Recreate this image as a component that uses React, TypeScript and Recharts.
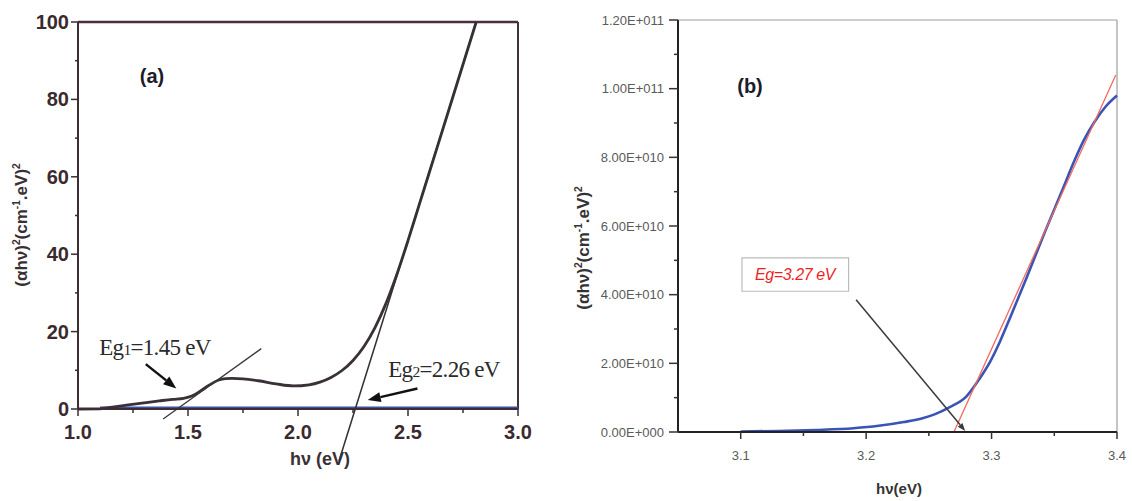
import { LineChart, Line, XAxis, YAxis, ReferenceLine, ReferenceArea } from "recharts";

// (a) Tauc plot, low energy range
const aEnergy = [1.0, 1.1, 1.13, 1.22, 1.3, 1.37, 1.43, 1.48, 1.52, 1.56, 1.6, 1.64, 1.67, 1.7, 1.75, 1.82, 1.9, 1.98, 2.05, 2.1, 2.15, 2.2, 2.25, 2.3, 2.35, 2.4, 2.45, 2.5, 2.55, 2.6, 2.7, 2.81];
const aAbs = [0, 0.05, 0.3, 1.0, 1.6, 2.1, 2.5, 2.75, 3.4, 4.8, 6.3, 7.5, 7.85, 7.9, 7.8, 7.3, 6.5, 5.95, 6.25, 6.95, 8.15, 9.95, 12.55, 16.15, 21.05, 27.3, 34.9, 43.5, 52.6, 61.7, 79.9, 100];
const aBaseEnergy = [1.1, 3.0];
const aBaseAbs = [0.3, 0.3];

const aTicksX = [1.0, 1.25, 1.5, 1.75, 2.0, 2.25, 2.5, 2.75, 3.0];
const aLabelsX = ["1.0", "", "1.5", "", "2.0", "", "2.5", "", "3.0"];
const aTicksY = [0, 10, 20, 30, 40, 50, 60, 70, 80, 90, 100];
const aLabelsY = ["0", "", "20", "", "40", "", "60", "", "80", "", "100"];

// linear fits and the arrows pointing at their intercepts
const eg1 = 1.45;
const eg2 = 2.26;
const fitA1Energy = [1.387, 1.833];
const fitA1Abs = [-2.56, 15.6];
const fitA2Energy = [2.186, 2.81];
const fitA2Abs = [-13.5, 100];
const arrowA1Energy = [1.308, 1.447];
const arrowA1Abs = [11.6, 5.3];
const arrowA2Energy = [2.543, 2.317];
const arrowA2Abs = [5.3, 2.3];

// (b) Tauc plot near the main absorption edge
const bEnergy = [3.1, 3.13, 3.16, 3.19, 3.21, 3.23, 3.245, 3.255, 3.267, 3.28, 3.29, 3.299, 3.307, 3.315, 3.328, 3.342, 3.357, 3.366, 3.374, 3.382, 3.391, 3.4];
const bAbs = [0.15e9, 0.3e9, 0.6e9, 1.1e9, 1.8e9, 2.9e9, 4.0e9, 5.2e9, 7.3e9, 10.4e9, 15.3e9, 20.6e9, 26.6e9, 33.5e9, 45.0e9, 57.8e9, 71.0e9, 79.0e9, 85.3e9, 90.3e9, 94.8e9, 98.0e9];

const bTicksX = [3.1, 3.15, 3.2, 3.25, 3.3, 3.35, 3.4];
const bLabelsX = ["3.1", "", "3.2", "", "3.3", "", "3.4"];
const bTicksY = [0, 1e10, 2e10, 3e10, 4e10, 5e10, 6e10, 7e10, 8e10, 9e10, 1e11, 1.1e11, 1.2e11];
const bLabelsY = ["0.00E+000", "", "2.00E+010", "", "4.00E+010", "", "6.00E+010", "", "8.00E+010", "", "1.00E+011", "", "1.20E+011"];

const egB = 3.27;
const fitBEnergy = [egB, 3.399];
const fitBAbs = [0, 1.04e11];
const arrowBEnergy = [3.192, 3.279];
const arrowBAbs = [3.85e10, 0.3e9];
const boxBEnergy = [3.101, 3.186];
const boxBAbs = [4.1e10, 5.07e10];

const zip = (xs: number[], ys: number[]) => xs.map((e, i) => ({ e, v: ys[i] }));
const seg = (xs: number[], ys: number[]) => [{ x: xs[0], y: ys[0] }, { x: xs[1], y: ys[1] }];

const SANS = '"Liberation Sans", Arial, sans-serif';
const SERIF = '"Liberation Serif", "Times New Roman", serif';

interface TickStyle {
  side: "left" | "bottom";
  ticks: number[];
  labels: string[];
  major: number;
  minor: number;
  gap: number;
  color: string;
  font: string;
  size: number;
  weight: string;
  tickColor: string;
}

function makeTick(s: TickStyle) {
  return (p: any) => {
    const { x, y, payload } = p;
    const i = s.ticks.indexOf(payload.value);
    const label = i >= 0 ? s.labels[i] : "";
    const len = label ? s.major : s.minor;
    if (s.side === "left") {
      return (
        <g>
          <line x1={x} y1={y} x2={x - len} y2={y} stroke={s.tickColor} strokeWidth={1.5} />
          {label && (
            <text x={x - len - s.gap} y={y} textAnchor="end" dominantBaseline="central"
              fill={s.color} fontFamily={s.font} fontSize={s.size} fontWeight={s.weight}>
              {label}
            </text>
          )}
        </g>
      );
    }
    return (
      <g>
        <line x1={x} y1={y} x2={x} y2={y + len} stroke={s.tickColor} strokeWidth={1.5} />
        {label && (
          <text x={x} y={y + s.gap} textAnchor="middle" dominantBaseline="central"
            fill={s.color} fontFamily={s.font} fontSize={s.size} fontWeight={s.weight}>
            {label}
          </text>
        )}
      </g>
    );
  };
}

function arrowShape(headLen: number, headW: number) {
  return (p: any) => {
    const { x1, y1, x2, y2, stroke, strokeWidth } = p;
    const dx = x2 - x1;
    const dy = y2 - y1;
    const d = Math.hypot(dx, dy) || 1;
    const ux = dx / d;
    const uy = dy / d;
    const bx = x2 - ux * headLen;
    const by = y2 - uy * headLen;
    const px = (-uy * headW) / 2;
    const py = (ux * headW) / 2;
    return (
      <g>
        <line x1={x1} y1={y1} x2={bx} y2={by} stroke={stroke} strokeWidth={strokeWidth} />
        <polygon points={`${x2},${y2} ${bx + px},${by + py} ${bx - px},${by - py}`} fill={stroke} />
      </g>
    );
  };
}

const sup = (t: string) => (
  <span style={{ fontSize: "0.6em", position: "relative", top: "-0.65em" }}>{t}</span>
);

const AXIS_A = "#3b2d33";

function PanelA() {
  return (
    <LineChart width={560} height={501} margin={{ top: 22, right: 42, left: 0, bottom: 0 }}>
      <XAxis
        dataKey="e"
        type="number"
        domain={[1, 3]}
        ticks={aTicksX}
        interval={0}
        height={92}
        tickSize={0}
        tickMargin={0}
        tickLine={false}
        axisLine={{ stroke: AXIS_A, strokeWidth: 2 }}
        tick={makeTick({
          side: "bottom", ticks: aTicksX, labels: aLabelsX, major: 7, minor: 4, gap: 23,
          color: "#3a2a2e", font: SANS, size: 20, weight: "bold", tickColor: AXIS_A,
        })}
      />
      <YAxis
        dataKey="v"
        type="number"
        domain={[0, 100]}
        ticks={aTicksY}
        interval={0}
        width={78}
        tickSize={0}
        tickMargin={0}
        tickLine={false}
        axisLine={{ stroke: AXIS_A, strokeWidth: 2 }}
        tick={makeTick({
          side: "left", ticks: aTicksY, labels: aLabelsY, major: 7, minor: 3, gap: 2,
          color: "#3a2a2e", font: SANS, size: 20, weight: "bold", tickColor: AXIS_A,
        })}
      />
      <ReferenceLine y={100} stroke="#4a2f3d" strokeWidth={2.5} />
      <ReferenceLine x={3} stroke="#3d3438" strokeWidth={2} />
      <Line data={zip(aBaseEnergy, aBaseAbs)} dataKey="v" stroke="#3f50a3" strokeWidth={2.5}
        dot={false} isAnimationActive={false} />
      <Line data={zip(aEnergy, aAbs)} dataKey="v" type="monotone" stroke="#3a3038" strokeWidth={2.8}
        dot={false} isAnimationActive={false} />
      <ReferenceLine segment={seg(fitA1Energy, fitA1Abs)} ifOverflow="visible" stroke="#3a3a3a" strokeWidth={1.3} />
      <ReferenceLine segment={seg(fitA2Energy, fitA2Abs)} ifOverflow="visible" stroke="#333" strokeWidth={1.5} />
      <ReferenceLine segment={seg(arrowA1Energy, arrowA1Abs)} ifOverflow="visible" stroke="#111" strokeWidth={2.5}
        shape={arrowShape(13, 10)} />
      <ReferenceLine segment={seg(arrowA2Energy, arrowA2Abs)} ifOverflow="visible" stroke="#111" strokeWidth={2.5}
        shape={arrowShape(13, 10)} />
    </LineChart>
  );
}

function PanelB() {
  return (
    <LineChart width={562} height={501} margin={{ top: 20, right: 15, left: 0, bottom: 0 }}>
      <XAxis
        dataKey="e"
        type="number"
        domain={[3.05, 3.4]}
        ticks={bTicksX}
        interval={0}
        height={69}
        tickSize={0}
        tickMargin={0}
        tickLine={false}
        axisLine={{ stroke: "#222", strokeWidth: 2 }}
        tick={makeTick({
          side: "bottom", ticks: bTicksX, labels: bLabelsX, major: 7, minor: 4, gap: 23,
          color: "#5a5a5a", font: SANS, size: 13, weight: "normal", tickColor: "#333",
        })}
      />
      <YAxis
        dataKey="v"
        type="number"
        domain={[0, 1.2e11]}
        ticks={bTicksY}
        interval={0}
        width={108}
        tickSize={0}
        tickMargin={0}
        tickLine={false}
        axisLine={{ stroke: "#222", strokeWidth: 2 }}
        tick={makeTick({
          side: "left", ticks: bTicksY, labels: bLabelsY, major: 9, minor: 4, gap: 5,
          color: "#5a5a5a", font: SANS, size: 13, weight: "normal", tickColor: "#333",
        })}
      />
      <ReferenceLine y={1.2e11} stroke="#bdbdbd" strokeWidth={1.5} />
      <ReferenceLine x={3.4} stroke="#b0b0b0" strokeWidth={1.5} />
      <ReferenceArea x1={boxBEnergy[0]} x2={boxBEnergy[1]} y1={boxBAbs[0]} y2={boxBAbs[1]}
        fill="#fff" fillOpacity={1} stroke="#bbb" strokeWidth={1.2} />
      <Line data={zip(bEnergy, bAbs)} dataKey="v" type="monotone" stroke="#3a54b6" strokeWidth={2.6}
        dot={false} isAnimationActive={false} />
      <ReferenceLine segment={seg(fitBEnergy, fitBAbs)} ifOverflow="visible" stroke="#f26a5e" strokeWidth={1.3} />
      <ReferenceLine segment={seg(arrowBEnergy, arrowBAbs)} ifOverflow="visible" stroke="#3a3a3a" strokeWidth={1.5}
        shape={arrowShape(8, 6)} />
    </LineChart>
  );
}

const abs = (left: number, top: number, extra: React.CSSProperties = {}): React.CSSProperties => ({
  position: "absolute",
  left,
  top,
  transform: "translate(-50%, -50%)",
  whiteSpace: "nowrap",
  lineHeight: 1,
  ...extra,
});

export default function App() {
  return (
    <div style={{ position: "absolute", left: 0, top: 0, width: 1132, height: 501, background: "#fff", overflow: "hidden" }}>
      <div style={{ position: "absolute", left: 0, top: 0 }}>
        <PanelA />
      </div>
      <div style={{ position: "absolute", left: 570, top: 0 }}>
        <PanelB />
      </div>

      {/* panel (a) texts */}
      <div style={abs(152, 76, { font: `bold 20px ${SANS}`, color: "#1c1c2a" })}>(a)</div>
      <div style={abs(22, 225, { font: `bold 17px ${SANS}`, color: "#3a3034", transform: "translate(-50%, -50%) rotate(-90deg)" })}>
        (αhν){sup("2")}(cm{sup("-1")}.eV){sup("2")}
      </div>
      <div style={abs(320, 459, { font: `bold 18px ${SANS}`, color: "#3a3034" })}>hν (eV)</div>
      <div style={abs(155, 348, { font: `23px ${SERIF}`, color: "#2a2a2a", letterSpacing: -0.7 })}>
        Eg<span style={{ fontSize: "0.68em" }}>1</span>={eg1.toFixed(2)} eV
      </div>
      <div style={abs(444, 370, { font: `23px ${SERIF}`, color: "#2a2a2a", letterSpacing: -0.7 })}>
        Eg<span style={{ fontSize: "0.68em" }}>2</span>={eg2.toFixed(2)} eV
      </div>

      {/* panel (b) texts */}
      <div style={abs(750, 86, { font: `bold 20px ${SANS}`, color: "#1c1c2a" })}>(b)</div>
      <div style={abs(584, 248, { font: `bold 17px ${SANS}`, color: "#333", transform: "translate(-50%, -50%) rotate(-90deg)" })}>
        (αhν){sup("2")}(cm{sup("-1")}.eV){sup("2")}
      </div>
      <div style={abs(899, 488, { font: `bold 15px ${SANS}`, color: "#333" })}>hν(eV)</div>
      <div style={abs(795, 275, { font: `italic 16px ${SANS}`, color: "#f01e1e", letterSpacing: -0.4 })}>
        Eg={egB.toFixed(2)} eV
      </div>
    </div>
  );
}
